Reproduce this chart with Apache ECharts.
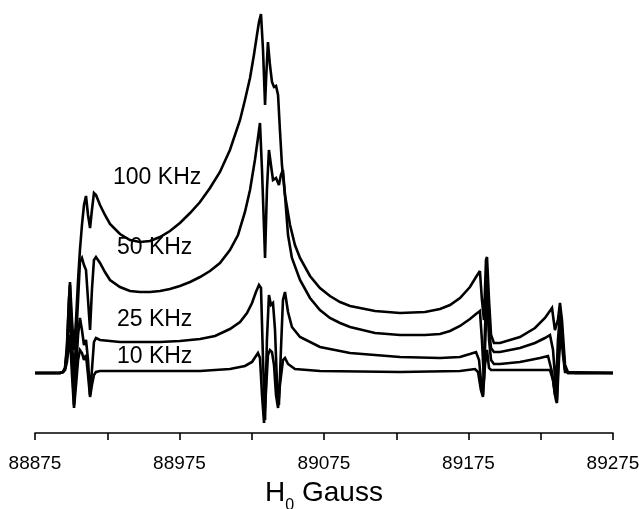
<!DOCTYPE html>
<html>
<head>
<meta charset="utf-8">
<script src="https://cdn.jsdelivr.net/npm/echarts@6/dist/echarts.min.js"></script>
<style>
  html, body { margin: 0; padding: 0; background: #fff; }
  #chart { width: 639px; height: 509px; }
</style>
</head>
<body>
<div id="chart"></div>
<script>
// Field axis (Gauss)
const fieldMin = 88875;
const fieldMax = 89275;
const fieldStep = 100;

// Modulation frequencies labelled next to each trace
const traceLabels = ['100 KHz', '50 KHz', '25 KHz', '10 KHz'];

// Spectra: [field (G), signal (arb. units)]
const trace100 = [
  [88875.0, 0], [88892.3, 0], [88894.4, 1], [88895.8, 5], [88897.1, 23], [88898.5, 73],
  [88899.2, 91], [88900.6, 53], [88902.0, 23], [88903.4, 53], [88904.8, 93], [88906.1, 123],
  [88907.5, 148], [88908.9, 168], [88910.3, 177], [88911.7, 158], [88913.1, 145], [88914.4, 163],
  [88915.8, 180], [88917.2, 178], [88920.0, 168], [88923.4, 158], [88926.9, 149], [88933.8, 139],
  [88940.7, 133], [88947.7, 131], [88954.6, 132], [88961.5, 136], [88968.4, 142], [88975.3, 150],
  [88982.3, 160], [88989.2, 171], [88996.1, 185], [89003.0, 201], [89009.9, 223], [89016.9, 253],
  [89020.3, 273], [89023.8, 295], [89026.5, 318], [89028.6, 338], [89030.0, 351], [89031.4, 359],
  [89032.8, 323], [89034.2, 268], [89034.9, 293], [89036.2, 331], [89037.6, 308], [89039.0, 291],
  [89040.4, 286], [89041.8, 287], [89043.2, 278], [89044.5, 243], [89045.9, 208], [89048.0, 178],
  [89051.5, 148], [89054.9, 128], [89058.4, 115], [89065.3, 97], [89072.2, 85], [89079.1, 77],
  [89086.1, 71], [89093.0, 67], [89110.3, 62], [89127.6, 60], [89144.9, 61], [89155.3, 64],
  [89162.2, 68], [89169.1, 75], [89176.0, 86], [89180.2, 96], [89182.9, 102], [89184.3, 73],
  [89185.7, 53], [89187.1, 113], [89187.8, 116], [89189.2, 73], [89190.6, 38], [89192.6, 30],
  [89196.8, 30], [89210.6, 36], [89221.0, 45], [89227.9, 55], [89232.8, 65], [89234.8, 43],
  [89236.9, 53], [89238.3, 70], [89239.7, 53], [89241.8, 8], [89243.8, 1], [89248.7, 0],
  [89275.0, 0]
];

const trace50 = [
  [88875.0, 0], [88892.3, 0], [88894.4, 1], [88895.8, 5], [88897.1, 28], [88898.5, 73],
  [88899.2, 88], [88900.6, 33], [88902.0, -7], [88903.4, 33], [88904.8, 73], [88906.1, 111],
  [88907.5, 115], [88908.9, 108], [88910.3, 103], [88911.7, 73], [88913.1, 43], [88914.4, 83],
  [88915.8, 113], [88917.2, 116], [88920.0, 110], [88923.4, 101], [88926.9, 93], [88933.8, 86],
  [88940.7, 82], [88947.7, 81], [88954.6, 81], [88961.5, 82], [88968.4, 84], [88975.3, 87],
  [88982.3, 91], [88989.2, 96], [88996.1, 102], [89003.0, 110], [89009.9, 123], [89015.5, 138],
  [89020.3, 161], [89023.8, 183], [89027.2, 213], [89029.3, 235], [89030.7, 250], [89032.1, 203],
  [89034.2, 115], [89035.5, 183], [89036.9, 223], [89038.3, 208], [89039.7, 193], [89041.8, 195],
  [89043.8, 188], [89045.2, 198], [89046.6, 203], [89048.0, 178], [89050.1, 138], [89052.8, 115],
  [89058.4, 93], [89065.3, 75], [89072.2, 63], [89079.1, 55], [89086.1, 50], [89093.0, 46],
  [89110.3, 40], [89127.6, 38], [89144.9, 38], [89155.3, 39], [89162.2, 42], [89169.1, 47],
  [89176.0, 54], [89180.2, 59], [89182.9, 62], [89184.3, 33], [89185.7, -7], [89187.1, 53],
  [89187.8, 73], [89189.2, 43], [89190.6, 25], [89192.6, 21], [89196.8, 21], [89210.6, 25],
  [89221.0, 30], [89227.9, 35], [89231.4, 38], [89233.5, 23], [89235.5, -17], [89236.9, 33],
  [89238.3, 58], [89239.7, 38], [89241.8, 5], [89243.8, 0], [89275.0, 0]
];

const trace25 = [
  [88875.0, 0], [88892.3, 0], [88894.4, 1], [88895.8, 5], [88897.1, 18], [88898.5, 53],
  [88899.2, 68], [88900.6, 13], [88902.0, -32], [88903.4, 3], [88904.8, 38], [88906.1, 55],
  [88907.5, 43], [88908.9, 28], [88910.3, 33], [88911.7, 13], [88913.1, -22], [88914.4, 3],
  [88915.8, 31], [88917.2, 35], [88920.0, 33], [88926.9, 32], [88933.8, 31], [88947.7, 31],
  [88961.5, 31], [88975.3, 32], [88989.2, 34], [88999.6, 37], [89009.9, 44], [89016.9, 51],
  [89021.7, 60], [89025.2, 70], [89027.9, 81], [89030.0, 88], [89031.4, 85], [89032.8, 13],
  [89034.2, -47], [89035.5, 33], [89036.9, 78], [89038.3, 68], [89039.7, 70], [89041.1, 43],
  [89042.5, -12], [89043.8, -32], [89045.2, 23], [89046.6, 73], [89048.0, 81], [89050.1, 61],
  [89052.8, 46], [89058.4, 36], [89072.2, 26], [89093.0, 20], [89127.6, 16], [89155.3, 15],
  [89169.1, 16], [89176.0, 19], [89180.2, 21], [89182.3, 13], [89183.6, -7], [89185.0, -22],
  [89186.4, 43], [89187.8, 93], [89189.2, 33], [89190.6, 13], [89192.6, 9], [89196.8, 9],
  [89210.6, 11], [89224.5, 15], [89230.0, 17], [89232.8, 1], [89234.8, -22], [89236.2, -27],
  [89237.6, 33], [89239.0, 53], [89240.4, 23], [89241.8, 3], [89243.8, 0], [89275.0, 0]
];

const trace10 = [
  [88875.0, 0], [88892.3, 0], [88894.4, 1], [88895.8, 3], [88897.1, 11], [88898.5, 28],
  [88899.2, 38], [88900.6, -2], [88902.0, -35], [88903.4, -12], [88904.8, 13], [88906.1, 23],
  [88907.5, 20], [88908.9, 13], [88910.3, 18], [88911.7, -2], [88913.1, -24], [88914.4, -12],
  [88915.8, -2], [88917.2, 1], [88920.0, 2], [88954.6, 2], [88989.2, 2], [89009.9, 4],
  [89020.3, 7], [89025.2, 11], [89027.9, 17], [89029.3, 20], [89030.7, 15], [89032.1, -22],
  [89033.5, -50], [89034.9, -17], [89036.2, 18], [89037.6, 23], [89039.0, 21], [89040.4, 8],
  [89041.8, -22], [89043.2, -35], [89044.5, -12], [89046.6, 13], [89048.0, 15], [89050.1, 9],
  [89054.9, 4], [89072.2, 2], [89127.6, 1], [89169.1, 2], [89179.5, 4], [89181.6, 1],
  [89183.6, -17], [89185.0, -24], [89186.4, 8], [89187.8, 23], [89189.2, 5], [89190.6, 3],
  [89196.8, 3], [89231.4, 3], [89233.5, -7], [89235.5, -27], [89236.2, -30], [89237.6, 13],
  [89239.0, 43], [89240.4, 18], [89241.8, 1], [89275.0, 0]
];

const traces = [trace100, trace50, trace25, trace10];

// label anchor points in field/signal units (left edge, vertical middle of each text)
const labelAnchors = [
  [88929.0, 195],
  [88931.7, 125],
  [88931.7, 53],
  [88931.7, 16]
];

const chart = echarts.init(document.getElementById('chart'), null, { renderer: 'canvas' });

const labelFont = '"Liberation Sans", Arial, sans-serif';

chart.setOption({
  animation: false,
  backgroundColor: '#ffffff',
  grid: { left: 35, right: 26, top: 10, bottom: 76, outerBoundsMode: 'none', containLabel: false },
  xAxis: {
    type: 'value',
    min: fieldMin,
    max: fieldMax,
    interval: fieldStep,
    name: '{h|H}{sub|0}{h| Gauss}',
    nameLocation: 'middle',
    nameGap: 46,
    nameTextStyle: {
      rich: {
        h: { fontFamily: labelFont, fontSize: 28, color: '#000', verticalAlign: 'bottom' },
        sub: { fontFamily: labelFont, fontSize: 16, color: '#000', verticalAlign: 'bottom', padding: [0, 0, -7, 0] }
      }
    },
    axisLine: { show: true, onZero: false, lineStyle: { color: '#000', width: 1.6 } },
    axisTick: { show: true, inside: false, length: 7, lineStyle: { color: '#000', width: 1.6 } },
    minorTick: { show: true, splitNumber: 2, length: 7, lineStyle: { color: '#000', width: 1.6 } },
    splitLine: { show: false },
    axisLabel: {
      color: '#000',
      fontFamily: labelFont,
      fontSize: 19,
      margin: 21,
      formatter: (v) => String(v)
    }
  },
  yAxis: {
    type: 'value',
    min: -60,
    max: 363,
    show: false
  },
  series: traces.map((d, i) => ({
    name: traceLabels[i],
    type: 'line',
    data: d,
    showSymbol: false,
    symbol: 'none',
    smooth: false,
    lineStyle: { color: '#000', width: 2.6, join: 'miter', miterLimit: 3 },
    z: 2
  }))
});

// place the frequency labels beside their traces
chart.setOption({
  graphic: labelAnchors.map((a, i) => {
    const p = chart.convertToPixel({ gridIndex: 0 }, a);
    return {
      type: 'text',
      x: p[0],
      y: p[1],
      silent: true,
      style: {
        text: traceLabels[i],
        fill: '#000',
        font: '23px "Liberation Sans", Arial, sans-serif',
        textAlign: 'left',
        textVerticalAlign: 'middle'
      }
    };
  })
});
</script>
</body>
</html>
